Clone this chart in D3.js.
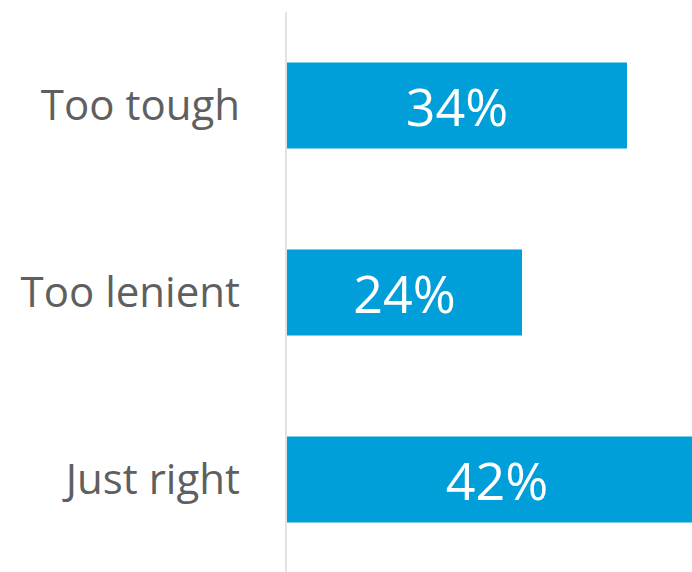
<!DOCTYPE html>
<html>
<head>
<meta charset="utf-8">
<script src="https://cdn.jsdelivr.net/npm/d3@7"></script>
<style>
  body { margin: 0; background: #fff; }
  svg { display: block; overflow: hidden; }
  .cat { font-family: "Open Sans", sans-serif; font-size: 42px; fill: #5f5f5f; }
  .val { font-family: "Open Sans", sans-serif; font-size: 52px; fill: #fff; }
</style>
</head>
<body>
<script>
// chart data
var categories = ["Too tough", "Too lenient", "Just right"];
var values = [34, 23.5, 42];
var labels = ["34%", "24%", "42%"];

var width = 692, height = 572;

var svg = d3.select("body").append("svg")
    .attr("width", width)
    .attr("height", height);

// x: 10px per percent starting at the axis
var x = d3.scaleLinear()
    .domain([0, 40.5])
    .range([287, 692]);

var y = d3.scaleBand()
    .domain(categories)
    .range([12, 573])
    .paddingInner(0.54)
    .paddingOuter(0.27);

// bars
svg.selectAll(".bar")
    .data(values)
    .enter()
    .append("rect")
    .attr("class", "bar")
    .attr("x", x(0))
    .attr("y", function(d, i){ return y(categories[i]); })
    .attr("width", function(d){ return x(d) - x(0); })
    .attr("height", y.bandwidth())
    .attr("fill", "#009FD9");

// vertical axis line
svg.append("line")
    .attr("x1", 286).attr("x2", 286)
    .attr("y1", 12).attr("y2", 572)
    .attr("stroke", "#e3e3e3")
    .attr("stroke-width", 2);

// category labels
svg.selectAll(".cat")
    .data(categories)
    .enter()
    .append("text")
    .attr("class", "cat")
    .attr("x", 240)
    .attr("y", function(d){ return y(d) + y.bandwidth() / 2 + 14; })
    .attr("text-anchor", "end")
    .text(function(d){ return d; });

// value labels centred in bars
svg.selectAll(".val")
    .data(values)
    .enter()
    .append("text")
    .attr("class", "val")
    .attr("x", function(d){ return (x(0) + x(d)) / 2; })
    .attr("y", function(d, i){ return y(categories[i]) + y.bandwidth() / 2 + 20; })
    .attr("text-anchor", "middle")
    .text(function(d, i){ return labels[i]; });
</script>
</body>
</html>
